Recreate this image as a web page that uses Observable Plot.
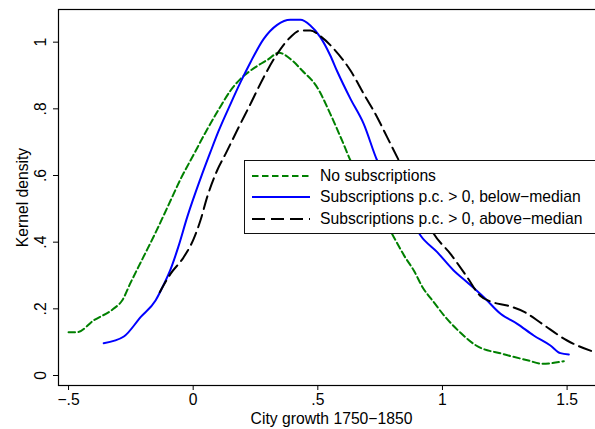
<!DOCTYPE html>
<html>
<head>
<meta charset="utf-8">
<script src="https://cdn.jsdelivr.net/npm/d3@7"></script>
<script src="https://cdn.jsdelivr.net/npm/@observablehq/plot@0.6"></script>
<style>
html, body { margin: 0; padding: 0; background: #fff; width: 595px; height: 429px; overflow: hidden; }
#wrap { position: relative; width: 604px; height: 429px; font-family: "Liberation Sans", Arial, sans-serif; }
#legend { position: absolute; left: 244px; top: 160px; width: 362px; height: 74px; box-sizing: border-box;
  border: 1px solid #111; background: #fff; padding-top: 4px; }
.row { height: 21.5px; display: flex; align-items: center; font-size: 15.7px; color: #000; white-space: nowrap; }
.row svg { margin-left: 7px; margin-right: 10px; flex: none; }
</style>
</head>
<body>
<div id="wrap"><div id="chart"></div><div id="legend"></div></div>
<script>
// ---- data ----
const seriesNames = ["No subscriptions", "Subscriptions p.c. > 0, below\u2212median", "Subscriptions p.c. > 0, above\u2212median"];
const seriesColors = ["#008000", "#0000ff", "#000000"];
const seriesDash = ["6.5,3.5", null, "13,6"];

const greenX = [-0.5, -0.465, -0.40, -0.32, -0.285, -0.25, -0.20, -0.15, -0.10, -0.05, 0.0, 0.05, 0.10, 0.15, 0.19, 0.25, 0.30, 0.343, 0.40, 0.437, 0.497, 0.55, 0.60, 0.631, 0.70, 0.75, 0.805, 0.85, 0.885, 0.92, 0.965, 1.012, 1.07, 1.135, 1.24, 1.345, 1.40, 1.487];
const greenY = [0.13, 0.13, 0.165, 0.20, 0.225, 0.28, 0.355, 0.43, 0.51, 0.59, 0.66, 0.73, 0.795, 0.855, 0.89, 0.925, 0.948, 0.968, 0.943, 0.915, 0.865, 0.785, 0.70, 0.645, 0.555, 0.49, 0.415, 0.355, 0.315, 0.265, 0.22, 0.175, 0.13, 0.09, 0.065, 0.045, 0.035, 0.043];

const blueX = [-0.359, -0.278, -0.211, -0.151, -0.12, -0.09, -0.06, -0.024, 0.029, 0.069, 0.10, 0.15, 0.19, 0.23, 0.283, 0.337, 0.39, 0.43, 0.47, 0.51, 0.55, 0.578, 0.631, 0.684, 0.738, 0.80, 0.86, 0.912, 0.979, 1.045, 1.099, 1.166, 1.233, 1.30, 1.366, 1.433, 1.473, 1.507];
const blueY = [0.097, 0.117, 0.175, 0.225, 0.27, 0.32, 0.385, 0.475, 0.59, 0.67, 0.73, 0.815, 0.88, 0.94, 1.01, 1.052, 1.067, 1.067, 1.05, 1.015, 0.96, 0.912, 0.83, 0.755, 0.645, 0.56, 0.49, 0.42, 0.37, 0.315, 0.28, 0.235, 0.185, 0.155, 0.12, 0.09, 0.067, 0.063];

const blackX = [-0.134, -0.091, -0.038, 0.002, 0.029, 0.056, 0.096, 0.13, 0.176, 0.23, 0.283, 0.337, 0.39, 0.43, 0.47, 0.51, 0.564, 0.631, 0.684, 0.738, 0.778, 0.825, 0.89, 0.965, 1.032, 1.099, 1.15, 1.20, 1.26, 1.33, 1.40, 1.50, 1.61];
const blackY = [0.25, 0.305, 0.355, 0.41, 0.465, 0.535, 0.615, 0.665, 0.735, 0.815, 0.895, 0.965, 1.015, 1.035, 1.035, 1.018, 0.98, 0.915, 0.845, 0.775, 0.715, 0.645, 0.545, 0.425, 0.365, 0.295, 0.24, 0.22, 0.21, 0.19, 0.155, 0.105, 0.07];

const xTicks = [-0.5, 0, 0.5, 1, 1.5];
const xTickLabels = ["\u2212.5", "0", ".5", "1", "1.5"];
const yTicks = [0, 0.2, 0.4, 0.6, 0.8, 1];
const yTickLabels = ["0", ".2", ".4", ".6", ".8", "1"];
const xTitle = "City growth 1750\u22121850";
const yTitle = "Kernel density";

// ---- build ----
const toRows = (xs, ys) => xs.map((x, i) => ({x, y: ys[i]}));
const series = [toRows(greenX, greenY), toRows(blueX, blueY), toRows(blackX, blackY)];
const font = "Liberation Sans, Arial, sans-serif";
const fs = 15.7;

const lineMarks = series.map((rows, k) => Plot.line(rows, {
  x: "x", y: "y", stroke: seriesColors[k], strokeWidth: 2,
  strokeDasharray: seriesDash[k] || undefined, curve: "monotone-x"
}));

const chart = Plot.plot({
  width: 604, height: 429,
  marginLeft: 58, marginRight: 0, marginTop: 9, marginBottom: 44,
  style: {fontFamily: font, fontSize: fs + "px", background: "white", color: "black"},
  x: {domain: [-0.5403, 1.650]},
  y: {domain: [-0.030, 1.098]},
  marks: [
    ...lineMarks,
    Plot.frame({stroke: "black", strokeWidth: 1.2}),
    Plot.axisX({ticks: xTicks, tickSize: 5, tickPadding: 3, label: null, fontSize: fs,
      tickFormat: d => xTickLabels[xTicks.indexOf(d)]}),
    Plot.axisY({ticks: yTicks, tickSize: 5, label: null, tickFormat: () => ""}),
    Plot.text(yTicks, {y: d => d, text: d => yTickLabels[yTicks.indexOf(d)], frameAnchor: "left",
      dx: -18, rotate: -90, textAnchor: "middle", lineAnchor: "middle", fontSize: fs, fill: "black"}),
    Plot.text([xTitle], {text: d => d, frameAnchor: "bottom", dy: 33, lineAnchor: "middle", fontSize: fs, fill: "black"}),
    Plot.text([yTitle], {text: d => d, frameAnchor: "left", dx: -36, rotate: -90, textAnchor: "middle", lineAnchor: "middle", fontSize: fs, fill: "black"})
  ]
});
document.getElementById("chart").appendChild(chart);

// legend (overlaid inside the plot area, as in the reference)
const legend = document.getElementById("legend");
seriesNames.forEach((name, k) => {
  const row = document.createElement("div");
  row.className = "row";
  const dash = seriesDash[k] ? ` stroke-dasharray="${seriesDash[k]}"` : "";
  row.innerHTML = `<svg width="58" height="10"><line x1="0" y1="5" x2="58" y2="5" stroke="${seriesColors[k]}" stroke-width="2"${dash}/></svg><span>${name}</span>`;
  legend.appendChild(row);
});
</script>
</body>
</html>
